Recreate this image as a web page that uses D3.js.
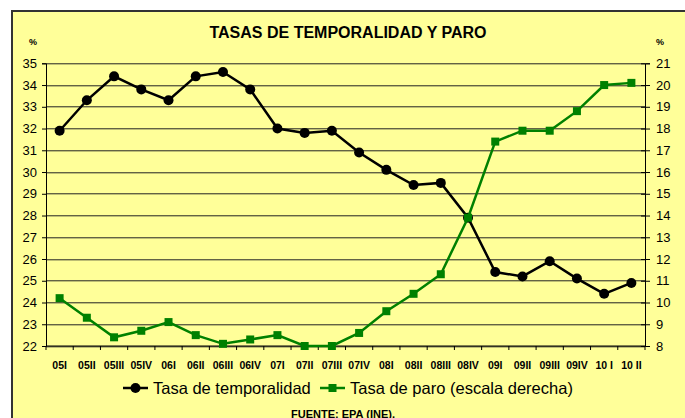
<!DOCTYPE html>
<html>
<head>
<meta charset="utf-8">
<script src="https://cdn.jsdelivr.net/npm/d3@7"></script>
<style>
  body { margin: 0; background: #fff; }
  svg text { font-family: Arial, "Liberation Sans", sans-serif; }
</style>
</head>
<body>
<svg id="chart" width="685" height="418"></svg>
<script>
// trimestres
let categorias = ["05I", "05II", "05III", "05IV", "06I", "06II", "06III", "06IV",
                  "07I", "07II", "07III", "07IV", "08I", "08II", "08III", "08IV",
                  "09I", "09II", "09III", "09IV", "10 I", "10 II"];

let temporalidad = [31.9, 33.3, 34.4, 33.8, 33.3, 34.4, 34.6, 33.8, 32.0, 31.8, 31.9,
                    30.9, 30.1, 29.4, 29.5, 27.9, 25.4, 25.2, 25.9, 25.1, 24.4, 24.9];

let paro = [10.2, 9.3, 8.4, 8.7, 9.1, 8.5, 8.1, 8.3, 8.5, 8.0, 8.0,
            8.6, 9.6, 10.4, 11.3, 13.9, 17.4, 17.9, 17.9, 18.8, 20.0, 20.1];

let ticksIzq = d3.range(22, 36);
let ticksDer = d3.range(8, 22);

let svg = d3.select("#chart"),
    fondo = "#ffff99",
    verde = "#008000",
    margin = {top: 63.3, right: 40, bottom: 72, left: 46},
    width = 645 - margin.left,
    height = 346 - margin.top;

// marco del grafico
svg.append("rect")
   .attr("x", 12).attr("y", 11)
   .attr("width", 685).attr("height", 420)
   .attr("fill", fondo)
   .attr("stroke", "#333")
   .attr("stroke-width", 2);

let g = svg.append("g").attr("transform", "translate(" + margin.left + "," + margin.top + ")");

let x = d3.scaleBand().domain(categorias).range([0, width]).padding(0);
let yIzq = d3.scaleLinear().domain([22, 35]).range([height, 0]);
let yDer = d3.scaleLinear().domain([8, 21]).range([height, 0]);

// lineas de division
g.selectAll(".grid")
 .data(ticksIzq)
 .enter()
 .append("line")
 .attr("class", "grid")
 .attr("x1", 0).attr("x2", width)
 .attr("y1", d => Math.round(yIzq(d)) + 0.5)
 .attr("y2", d => Math.round(yIzq(d)) + 0.5)
 .attr("stroke", "#222")
 .attr("stroke-width", 1);

// eje izquierdo
let ejeIzq = g.append("g")
    .call(d3.axisLeft(yIzq).tickValues(ticksIzq).tickFormat(d3.format("d")).tickSize(4).tickPadding(5));
ejeIzq.select(".domain").attr("stroke", "#000");
ejeIzq.selectAll("line").attr("stroke", "#000");
ejeIzq.selectAll("text").style("font-size", "13px").attr("fill", "#000");

// eje derecho (ticks cruzados)
let ejeDer = g.append("g")
    .attr("transform", "translate(" + width + ",0)")
    .call(d3.axisRight(yDer).tickValues(ticksDer).tickFormat(d3.format("d")).tickSize(5).tickPadding(6));
ejeDer.select(".domain").attr("stroke", "#000");
ejeDer.selectAll(".tick line").attr("stroke", "#000").attr("x1", -4);
ejeDer.selectAll("text").style("font-size", "13px").attr("fill", "#000");

// eje x
let ejeX = g.append("g").attr("transform", "translate(0," + height + ")");
ejeX.append("line")
    .attr("x1", 0).attr("x2", width)
    .attr("stroke", "#000");
ejeX.selectAll(".tk")
    .data(d3.range(categorias.length + 1))
    .enter()
    .append("line")
    .attr("class", "tk")
    .attr("x1", i => x.step() * i).attr("x2", i => x.step() * i)
    .attr("y1", 0).attr("y2", 4)
    .attr("stroke", "#000");
ejeX.selectAll(".lbl")
    .data(categorias)
    .enter()
    .append("text")
    .attr("class", "lbl")
    .attr("x", d => x(d) + x.bandwidth() / 2)
    .attr("y", 23)
    .attr("text-anchor", "middle")
    .style("font-size", "10.5px")
    .style("font-weight", "bold")
    .text(d => d);

// series
let lineaTemp = d3.line()
    .x((d, i) => x(categorias[i]) + x.bandwidth() / 2)
    .y(d => yIzq(d));
let lineaParo = d3.line()
    .x((d, i) => x(categorias[i]) + x.bandwidth() / 2)
    .y(d => yDer(d));

g.append("path")
 .datum(temporalidad)
 .attr("d", lineaTemp)
 .attr("fill", "none")
 .attr("stroke", "#000")
 .attr("stroke-width", 2.5);

g.selectAll(".pt")
 .data(temporalidad)
 .enter()
 .append("circle")
 .attr("class", "pt")
 .attr("cx", (d, i) => x(categorias[i]) + x.bandwidth() / 2)
 .attr("cy", d => yIzq(d))
 .attr("r", 5)
 .attr("fill", "#000");

g.append("path")
 .datum(paro)
 .attr("d", lineaParo)
 .attr("fill", "none")
 .attr("stroke", verde)
 .attr("stroke-width", 2.5);

g.selectAll(".sq")
 .data(paro)
 .enter()
 .append("rect")
 .attr("class", "sq")
 .attr("x", (d, i) => x(categorias[i]) + x.bandwidth() / 2 - 4)
 .attr("y", d => yDer(d) - 4)
 .attr("width", 8).attr("height", 8)
 .attr("fill", verde);

// titulo y unidades
svg.append("text")
   .attr("x", 348).attr("y", 38)
   .attr("text-anchor", "middle")
   .style("font-size", "16px")
   .style("font-weight", "bold")
   .text("TASAS DE TEMPORALIDAD Y PARO");

svg.append("text")
   .attr("x", 33).attr("y", 45)
   .attr("text-anchor", "middle")
   .style("font-size", "9px")
   .style("font-weight", "bold")
   .text("%");

svg.append("text")
   .attr("x", 660).attr("y", 45)
   .attr("text-anchor", "middle")
   .style("font-size", "9px")
   .style("font-weight", "bold")
   .text("%");

// leyenda
let leyenda = svg.append("g").attr("transform", "translate(0,388)");
let items = [
    {nombre: "Tasa de temporalidad", color: "#000", x0: 123, forma: "circulo"},
    {nombre: "Tasa de paro (escala derecha)", color: verde, x0: 320, forma: "cuadro"}
];
items.forEach(function(it) {
    leyenda.append("line")
        .attr("x1", it.x0).attr("x2", it.x0 + 25)
        .attr("stroke", it.color)
        .attr("stroke-width", 2.5);
    if (it.forma == "circulo") {
        leyenda.append("circle").attr("cx", it.x0 + 12.5).attr("r", 5).attr("fill", it.color);
    } else {
        leyenda.append("rect").attr("x", it.x0 + 8.5).attr("y", -4)
            .attr("width", 8).attr("height", 8).attr("fill", it.color);
    }
    leyenda.append("text")
        .attr("x", it.x0 + 30).attr("y", 6)
        .style("font-size", "16.5px")
        .text(it.nombre);
});

svg.append("text")
   .attr("x", 343).attr("y", 418)
   .attr("text-anchor", "middle")
   .style("font-size", "11px")
   .style("font-weight", "bold")
   .text("FUENTE: EPA (INE).");
</script>
</body>
</html>
